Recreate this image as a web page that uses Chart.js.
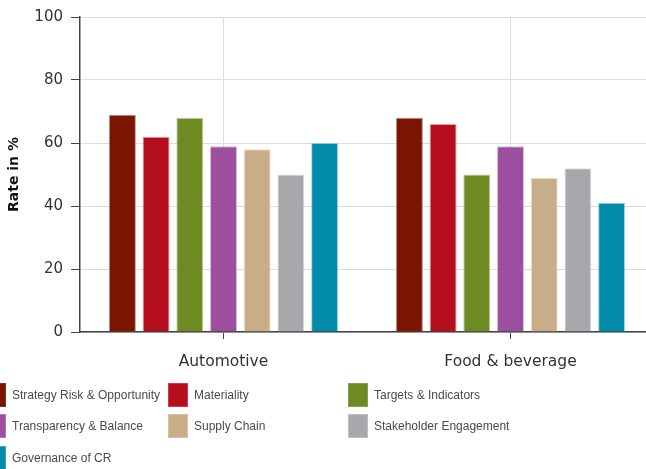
<!DOCTYPE html>
<html>
<head>
<meta charset="utf-8">
<script src="https://cdn.jsdelivr.net/npm/chart.js@4/dist/chart.umd.min.js"></script>
<style>
  html, body { margin: 0; padding: 0; background: #fff; overflow: hidden; width: 646px; height: 469px; }
  #wrap { position: absolute; left: 0; top: 0; width: 654px; height: 380px; }
  #legend { position: absolute; left: 0; top: 0; width: 646px; height: 469px; pointer-events: none; }
  .item { position: absolute; height: 24px; font: 12px "Liberation Sans", Arial, sans-serif; color: #4a4a4a; white-space: nowrap; }
  .box { position: absolute; left: 0; top: 0; width: 20px; height: 24px; box-sizing: border-box; }
  .lbl { position: absolute; left: 26px; top: 5px; }
</style>
</head>
<body>
<div id="wrap"><canvas id="c"></canvas></div>
<div id="legend"></div>
<script>
const categories = ["Automotive", "Food & beverage"];
const seriesNames = [
  "Strategy Risk & Opportunity",
  "Materiality",
  "Targets & Indicators",
  "Transparency & Balance",
  "Supply Chain",
  "Stakeholder Engagement",
  "Governance of CR"
];
const strategyRisk = [69, 68];
const materiality = [62, 66];
const targetsIndicators = [68, 50];
const transparencyBalance = [59, 59];
const supplyChain = [58, 49];
const stakeholderEngagement = [50, 52];
const governanceCR = [60, 41];
const yTicks = [0, 20, 40, 60, 80, 100];

const seriesValues = [strategyRisk, materiality, targetsIndicators, transparencyBalance, supplyChain, stakeholderEngagement, governanceCR];
const colors = ["#7a1600", "#b50e1e", "#6e8b23", "#9b4f9e", "#c8ae88", "#a7a8ab", "#008ca8"];
const borders = ["rgba(150,60,50,0.6)", "rgba(220,90,100,0.6)", "rgba(150,175,100,0.6)", "rgba(195,140,200,0.6)", "rgba(225,205,175,0.6)", "rgba(205,205,208,0.6)", "rgba(90,190,210,0.6)"];

const datasets = seriesNames.map((name, i) => ({
  label: name,
  data: seriesValues[i],
  backgroundColor: colors[i],
  borderColor: borders[i],
  borderWidth: 1,
  categoryPercentage: 0.822,
  barPercentage: 0.8
}));

new Chart(document.getElementById('c'), {
  type: 'bar',
  data: { labels: categories, datasets },
  options: {
    responsive: true,
    maintainAspectRatio: false,
    animation: false,
    layout: { padding: { top: 16, right: 0, left: 0, bottom: 0 } },
    plugins: { legend: { display: false }, tooltip: { enabled: false } },
    scales: {
      x: {
        grid: { offset: false, color: '#dcdcdc', lineWidth: 1, tickColor: '#444', tickLength: 7 },
        border: { color: '#444', width: 1.5 },
        ticks: { color: '#333', font: { family: 'DejaVu Sans', size: 15.5 }, padding: 14 },
        afterFit: s => { s.height = 48; }
      },
      y: {
        min: 0, max: 100,
        afterBuildTicks: s => { s.ticks = yTicks.map(v => ({ value: v })); },
        grid: { color: '#dcdcdc', lineWidth: 1, tickColor: '#444', tickLength: 9 },
        border: { color: '#444', width: 1.5 },
        ticks: { color: '#333', font: { family: 'DejaVu Sans', size: 15 }, padding: 8 },
        title: { display: true, text: 'Rate in %', color: '#111', font: { family: 'DejaVu Sans', size: 14, weight: 'bold' }, padding: { top: 6, bottom: 0 } },
        afterFit: s => { s.width = 80; }
      }
    }
  }
});

const legend = document.getElementById('legend');
const colX = [-14, 168, 348];
const rowY = [383, 414, 446];
seriesNames.forEach((name, i) => {
  const el = document.createElement('div');
  el.className = 'item';
  el.style.left = colX[i % 3] + 'px';
  el.style.top = rowY[Math.floor(i / 3)] + 'px';
  const b = document.createElement('div');
  b.className = 'box';
  b.style.background = colors[i];
  b.style.border = '1px solid ' + borders[i];
  const t = document.createElement('div');
  t.className = 'lbl';
  t.textContent = name;
  el.appendChild(b); el.appendChild(t);
  legend.appendChild(el);
});
</script>
</body>
</html>
